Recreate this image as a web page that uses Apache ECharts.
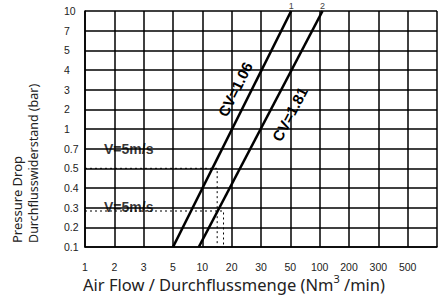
<!DOCTYPE html>
<html><head><meta charset="utf-8">
<script src="https://cdn.jsdelivr.net/npm/echarts@6/dist/echarts.min.js"></script>
<style>html,body{margin:0;padding:0;background:#fff}#c{width:443px;height:297px}</style>
</head><body><div id="c"></div>
<script>
// Tick labels (printed scale of the nomograph)
const xTickLabels = ['1','2','3','5','10','20','30','50','100','200','300','500',''];
const xTickValues = [1,2,3,5,10,20,30,50,100,200,300,500,1000];
const yTickLabels = ['0.1','0.2','0.3','0.4','0.5','0.7','1','2','3','4','5','7','10'];
const yTickValues = [0.1,0.2,0.3,0.4,0.5,0.7,1,2,3,4,5,7,10];

// Characteristic lines (flow Nm3/min, pressure drop bar)
const cv106Flow = [5, 51];
const cv106Pressure = [0.1, 10];
const cv181Flow = [9.2, 107];
const cv181Pressure = [0.1, 10];

// V = 5 m/s guide lines
const v5UpperFlow = [1, 14.2, 14.2];
const v5UpperPressure = [0.5, 0.5, 0.1];
const v5LowerFlow = [1, 16.5, 16.5];
const v5LowerPressure = [0.28, 0.28, 0.1];

// annotation anchors
const v5LabelFlow = [1, 1];
const v5LabelPressure = [0.7, 0.305];

function warp(v, ticks) {
  for (let i = 0; i < ticks.length - 1; i++) {
    if (v <= ticks[i + 1] || i === ticks.length - 2) {
      return i + Math.log(v / ticks[i]) / Math.log(ticks[i + 1] / ticks[i]);
    }
  }
  return 0;
}
const xp = v => warp(v, xTickValues);
const yp = v => warp(v, yTickValues);
const pts = (fx, py) => fx.map((f, i) => [xp(f), yp(py[i])]);

const chart = echarts.init(document.getElementById('c'), null, {renderer: 'svg'});
const tickFont = 'Liberation Sans';
const lineColor = '#000';

function cvSeries(name, flow, pres, topLabel) {
  const d = pts(flow, pres);
  return {
    name, type: 'line', symbol: 'circle', symbolSize: 0, silent: true,
    lineStyle: {color: '#000', width: 2.6},
    itemStyle: {color: '#000'},
    data: [
      {value: d[0]},
      {value: d[1], label: {show: true, position: 'top', distance: 1, formatter: topLabel,
        fontSize: 9, color: '#444', fontFamily: tickFont}}
    ],
    z: 5
  };
}
function dotted(flow, pres) {
  return {
    type: 'line', symbol: 'none', silent: true,
    lineStyle: {color: '#000', width: 1, type: [2, 3]},
    data: pts(flow, pres), z: 4
  };
}

chart.setOption({
  animation: false,
  grid: {left: 85, right: 6, top: 11, bottom: 50},
  xAxis: {
    type: 'value', min: 0, max: 12, interval: 1,
    axisLine: {show: true, lineStyle: {color: '#000', width: 1.6}},
    axisTick: {show: false},
    splitLine: {show: true, lineStyle: {color: lineColor, width: 1.5}},
    axisLabel: {formatter: v => xTickLabels[Math.round(v)] || '', margin: 14,
      fontSize: 10.5, color: '#222', fontFamily: tickFont}
  },
  yAxis: {
    type: 'value', min: 0, max: 12, interval: 1,
    axisLine: {show: true, lineStyle: {color: '#000', width: 1.6}},
    axisTick: {show: false},
    splitLine: {show: true, lineStyle: {color: lineColor, width: 1.5}},
    axisLabel: {formatter: v => yTickLabels[Math.round(v)] || '', margin: 21, align: 'left',
      fontSize: 10.5, color: '#222', fontFamily: tickFont}
  },
  series: [
    cvSeries('CV=1.06', cv106Flow, cv106Pressure, '1'),
    cvSeries('CV=1.81', cv181Flow, cv181Pressure, '2'),
    dotted(v5UpperFlow, v5UpperPressure),
    dotted(v5LowerFlow, v5LowerPressure),
    {
      type: 'scatter', symbolSize: 0, silent: true, z: 6,
      data: pts(v5LabelFlow, v5LabelPressure),
      label: {show: true, position: 'right', distance: 19, formatter: 'V=5m/s',
        fontSize: 14, fontWeight: 'bold', color: '#000', fontFamily: tickFont}
    }
  ]
});

function along(flow, pres, t, perp) {
  const p0 = chart.convertToPixel({gridIndex: 0}, [xp(flow[0]), yp(pres[0])]);
  const p1 = chart.convertToPixel({gridIndex: 0}, [xp(flow[1]), yp(pres[1])]);
  const dx = p1[0] - p0[0], dy = p1[1] - p0[1];
  const len = Math.hypot(dx, dy);
  const nx = dy / len, ny = -dx / len;
  return {x: p0[0] + t * dx + perp * nx, y: p0[1] + t * dy + perp * ny, rot: Math.atan2(-dy, dx)};
}
const a1 = along(cv106Flow, cv106Pressure, 0.64, 15);
const a2 = along(cv181Flow, cv181Pressure, 0.6, -19);
const cvFont = 'bold 15px "Liberation Sans"';
const nameFont = 'Noto Sans';

chart.setOption({
  graphic: [
    {type: 'text', x: a1.x, y: a1.y, rotation: a1.rot, z: 10,
      style: {text: 'CV=1.06', font: cvFont, fill: '#000', align: 'center', verticalAlign: 'middle'}},
    {type: 'text', x: a2.x, y: a2.y, rotation: a2.rot, z: 10,
      style: {text: 'CV=1.81', font: cvFont, fill: '#000', align: 'center', verticalAlign: 'middle'}},
    {type: 'text', x: 17, y: 243, rotation: Math.PI / 2,
      style: {text: 'Pressure Drop', font: '13px "Noto Sans"', fill: '#222', align: 'left', verticalAlign: 'middle'}},
    {type: 'text', x: 33, y: 243, rotation: Math.PI / 2,
      style: {text: 'Durchflusswiderstand (bar)', font: '12.5px "Noto Sans"', fill: '#222', align: 'left', verticalAlign: 'middle'}},
    {type: 'text', x: 83, y: 283,
      style: {
        text: '{a|Air Flow / Durchflussmenge (Nm}{s|3}{a| /min)}',
        align: 'left', verticalAlign: 'middle',
        rich: {
          a: {fontSize: 16.5, fontFamily: nameFont, fill: '#222', lineHeight: 20, verticalAlign: 'bottom'},
          s: {fontSize: 11, fontFamily: nameFont, fill: '#222', lineHeight: 20, verticalAlign: 'top'}
        }
      }}
  ]
});
</script>
</body></html>
